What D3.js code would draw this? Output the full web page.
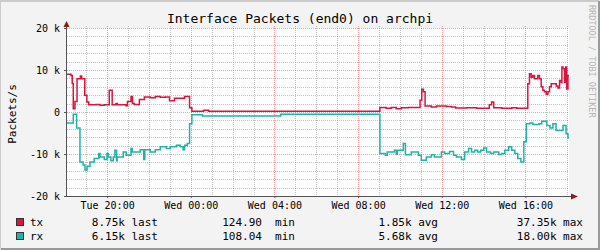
<!DOCTYPE html>
<html>
<head>
<meta charset="utf-8">
<script src="https://cdn.jsdelivr.net/npm/d3@7"></script>
<style>
  html, body { margin: 0; padding: 0; background: #f3f3f3; }
  svg { display: block; font-family: "DejaVu Sans Mono", monospace; }
  text { white-space: pre; }
</style>
</head>
<body>
<div id="chart"></div>
<script>
// hours since graph start (Tue 18:05) and packets/s in thousands
const txHours = [0, 0.19, 0.25, 0.30, 0.38, 0.48, 0.64, 0.70, 0.85, 0.95, 1.04, 1.39, 1.58, 1.78, 2.02, 2.16,
  2.34, 2.41, 2.82, 2.89, 3.06, 3.13, 3.22, 3.46, 3.70, 3.98, 4.22, 4.46, 4.70, 4.90, 5.14, 5.62, 5.86, 5.97,
  6.53, 6.77, 14.96, 15.26, 15.50, 15.74, 15.98, 16.32, 16.88, 16.96, 17.04, 17.12, 17.42, 17.66, 18.14, 18.38,
  18.58, 19.10, 19.58, 20.19, 20.30, 20.40, 20.78, 21.26, 21.50, 22.03, 22.11, 22.19, 22.27, 22.35, 22.51,
  22.59, 22.67, 22.75, 22.83, 22.91, 22.99, 23.07, 23.15, 23.39, 23.47, 23.55, 23.63, 23.66, 23.71, 23.79,
  23.84, 23.89, 23.95];
const txValues = [9.0, 8.7, 6.8, 0.8, 2.5, 7.9, 8.6, 7.9, 4.0, 2.4, 1.7, 1.8, 1.6, 1.7, 5.2, 1.7,
  2.0, 1.7, 1.5, 2.5, 3.7, 2.0, 1.8, 3.0, 3.6, 3.4, 3.7, 3.5, 3.6, 2.7, 3.3, 3.7, 1.0, 0.15,
  0.4, 0.15, 1.1, 0.9, 1.1, 0.8, 1.0, 1.1, 2.8, 5.4, 4.8, 1.4, 1.2, 1.4, 1.3, 1.2,
  0.95, 1.0, 0.9, 1.7, 2.4, 1.0, 0.9, 1.0, 0.9, 6.7, 9.1, 8.3, 8.7, 7.9, 8.7,
  7.9, 6.0, 5.2, 4.8, 4.2, 4.8, 6.0, 6.7, 6.2, 5.7, 7.5, 7.0, 10.7, 10.3, 7.1,
  10.7, 5.5, 8.7];

const rxHours = [0, 0.30, 0.46, 0.62, 0.77, 0.86, 0.96, 1.10, 1.30, 1.52, 1.58, 1.78, 1.91, 1.97, 2.10, 2.21,
  2.29, 2.37, 2.40, 2.69, 2.83, 3.06, 3.12, 3.50, 3.67, 3.72, 3.98, 4.22, 4.46, 4.75, 4.94, 5.23, 5.42, 5.55,
  5.62, 5.75, 5.86, 5.97, 6.48, 10.22, 14.96, 15.22, 15.31, 15.65, 15.74, 15.79, 16.08, 16.18, 16.46, 16.80,
  16.94, 17.18, 17.42, 17.57, 17.90, 18.05, 18.29, 18.48, 18.62, 18.86, 19.01, 19.20, 19.34, 19.49, 19.63,
  19.78, 19.92, 20.06, 20.26, 20.40, 20.64, 20.78, 20.93, 21.12, 21.26, 21.41, 21.55, 21.70, 21.84, 21.96,
  22.13, 22.27, 22.56, 22.70, 22.94, 23.09, 23.23, 23.38, 23.71, 23.86, 23.95];
const rxValues = [2.6, 0.55, 3.8, 11.9, 12.6, 13.8, 12.9, 11.9, 11.1, 9.9, 10.7, 11.3, 9.9, 10.7, 11.6, 10.7,
  9.1, 11.6, 10.7, 9.5, 10.3, 8.7, 9.5, 9.0, 11.3, 9.0, 9.5, 9.0, 8.3, 8.7, 8.3, 7.9, 8.3, 9.0,
  7.9, 7.5, 2.8, 0.65, 0.95, 0.55, 9.9, 10.3, 9.5, 9.1, 10.0, 9.1, 7.5, 10.2, 9.5, 10.3,
  11.5, 10.7, 10.2, 10.7, 9.5, 9.9, 9.4, 10.3, 10.7, 11.3, 9.5, 8.7, 9.5, 9.1, 9.5,
  9.1, 8.6, 9.5, 9.9, 9.5, 10.1, 9.9, 9.1, 8.3, 9.1, 9.9, 11.1, 11.9, 7.1, 2.8,
  2.6, 3.0, 2.8, 2.2, 3.2, 3.8, 2.8, 4.4, 3.2, 5.2, 6.2];

const yTicks = [-20, -10, 0, 10, 20];
const seriesNames = ['tx', 'rx'];
const seriesColors = ['#dc143c', '#20b2aa'];
const lastValues = ['8.75k', '6.15k'];
const minValues = ['124.90', '108.04'];
const avgValues = ['1.85k', '5.68k'];
const maxValues = ['37.35k', '18.00k'];

const W = 600, H = 250;
const start = new Date(2024, 0, 2, 18, 5); // a Tuesday
const end = new Date(start.getTime() + 24 * 3600e3);
const toDate = h => new Date(start.getTime() + h * 3600e3);

const svg = d3.select('#chart').append('svg')
  .attr('width', W)
  .attr('height', H);

// frame
svg.append('rect').attr('width', W).attr('height', H).attr('fill', '#f3f3f3');
svg.append('path').attr('d', 'M0,249 V1 H599').attr('stroke', '#cbcbcb').attr('stroke-width', 2).attr('fill', 'none');
svg.append('path').attr('d', 'M1,249 H599 V1').attr('stroke', '#999').attr('stroke-width', 2).attr('fill', 'none');

const pLeft = 67, pRight = 569, pTop = 28, pBottom = 196;
const x = d3.scaleTime().domain([start, end]).range([pLeft, pRight]);
const y = d3.scaleLinear().domain([-20, 20]).range([pBottom, pTop]);

svg.append('rect')
  .attr('x', pLeft).attr('y', pTop)
  .attr('width', pRight - pLeft).attr('height', pBottom - pTop)
  .attr('fill', '#fff');

// grid
const hours = d3.timeHour.range(d3.timeHour.ceil(start), end);
const minorX = hours.filter(d => d.getHours() % 4 !== 0);
const majorX = hours.filter(d => d.getHours() % 4 === 0);
const minorY = d3.range(-20, 21, 2).filter(v => v % 10 !== 0);

const grid = svg.append('g').attr('fill', 'none').attr('stroke-dasharray', '1,1');
grid.selectAll('.vminor').data(minorX).enter().append('line')
  .attr('x1', d => Math.round(x(d)) + 0.5).attr('x2', d => Math.round(x(d)) + 0.5)
  .attr('y1', pTop - 2).attr('y2', pBottom)
  .attr('stroke', 'rgba(120,120,120,0.45)');
grid.selectAll('.hminor').data(minorY).enter().append('line')
  .attr('x1', pLeft).attr('x2', pRight)
  .attr('y1', d => Math.round(y(d)) + 0.5).attr('y2', d => Math.round(y(d)) + 0.5)
  .attr('stroke', 'rgba(120,120,120,0.45)');
grid.selectAll('.vmajor').data(majorX).enter().append('line')
  .attr('x1', d => Math.round(x(d)) + 0.5).attr('x2', d => Math.round(x(d)) + 0.5)
  .attr('y1', pTop - 2).attr('y2', pBottom)
  .attr('stroke', 'rgba(240,60,60,0.5)');
grid.selectAll('.hmajor').data(yTicks).enter().append('line')
  .attr('x1', pLeft).attr('x2', pRight)
  .attr('y1', d => Math.round(y(d)) + 0.5).attr('y2', d => Math.round(y(d)) + 0.5)
  .attr('stroke', 'rgba(240,60,60,0.5)');

// data lines
const tx = txHours.map((h, i) => ({ t: toDate(h), v: txValues[i] }));
const rx = rxHours.map((h, i) => ({ t: toDate(h), v: -rxValues[i] }));
tx.push({ t: end, v: txValues[txValues.length - 1] });
rx.push({ t: end, v: -rxValues[rxValues.length - 1] });

const line = d3.line()
  .x(d => x(d.t))
  .y(d => y(d.v))
  .curve(d3.curveStepAfter);

[tx, rx].forEach((data, i) => {
  svg.append('path')
    .datum(data)
    .attr('d', line)
    .attr('fill', 'none')
    .attr('stroke', seriesColors[i])
    .attr('stroke-width', 1.5);
});

// axes
const yAxis = svg.append('g')
  .attr('transform', `translate(${pLeft},0)`)
  .call(d3.axisLeft(y).tickValues(yTicks).tickSize(3).tickPadding(4)
    .tickFormat(d => d === 0 ? '0' : d + ' k'));
const xAxis = svg.append('g')
  .attr('transform', `translate(0,${pBottom})`)
  .call(d3.axisBottom(x).tickValues(majorX).tickSize(2).tickPadding(4)
    .tickFormat(d3.timeFormat('%a %H:%M')));
[yAxis, xAxis].forEach(g => {
  g.select('.domain').remove();
  g.selectAll('text').attr('font-size', 10).attr('fill', '#000')
    .attr('font-family', '"DejaVu Sans Mono", monospace');
  g.selectAll('line').attr('stroke', '#555');
});

svg.append('line').attr('x1', pLeft - 0.5).attr('x2', pLeft - 0.5).attr('y1', pBottom + 1).attr('y2', 25)
  .attr('stroke', '#555');
svg.append('line').attr('x1', pLeft - 3).attr('x2', 572).attr('y1', pBottom + 0.5).attr('y2', pBottom + 0.5)
  .attr('stroke', '#555');
svg.append('path').attr('d', `M${pLeft - 3.5},27 L${pLeft - 0.5},21 L${pLeft + 2.5},27 Z`).attr('fill', '#8b1a1a');
svg.append('path').attr('d', `M571,${pBottom - 2.5} L578,${pBottom + 0.5} L571,${pBottom + 3.5} Z`).attr('fill', '#8b1a1a');

// title and labels
svg.append('text')
  .attr('x', 300).attr('y', 22.5)
  .attr('text-anchor', 'middle')
  .attr('font-size', 13)
  .text('Interface Packets (end0) on archpi');

svg.append('text')
  .attr('transform', 'translate(15.5,114) rotate(-90)')
  .attr('text-anchor', 'middle')
  .attr('font-size', 11)
  .text('Packets/s');

svg.append('text')
  .attr('transform', 'translate(589,5) rotate(90)')
  .attr('font-size', 8.5)
  .attr('fill', '#b4b4b4')
  .text('RRDTOOL / TOBI OETIKER');

// legend
const legend = svg.append('g').attr('font-size', 11);
seriesNames.forEach((name, i) => {
  const by = 226 + i * 14;
  legend.append('rect')
    .attr('x', 16.5).attr('y', by - 7.5)
    .attr('width', 7).attr('height', 7)
    .attr('fill', seriesColors[i])
    .attr('stroke', '#333').attr('stroke-width', 1);
  legend.append('text').attr('x', 30).attr('y', by).text(name);
  legend.append('text').attr('x', 158).attr('y', by).attr('text-anchor', 'end').text(lastValues[i] + ' last');
  legend.append('text').attr('x', 295).attr('y', by).attr('text-anchor', 'end').text(minValues[i] + '  min');
  legend.append('text').attr('x', 438).attr('y', by).attr('text-anchor', 'end').text(avgValues[i] + ' avg');
  legend.append('text').attr('x', 583).attr('y', by).attr('text-anchor', 'end').text(maxValues[i] + ' max');
});
</script>
</body>
</html>
